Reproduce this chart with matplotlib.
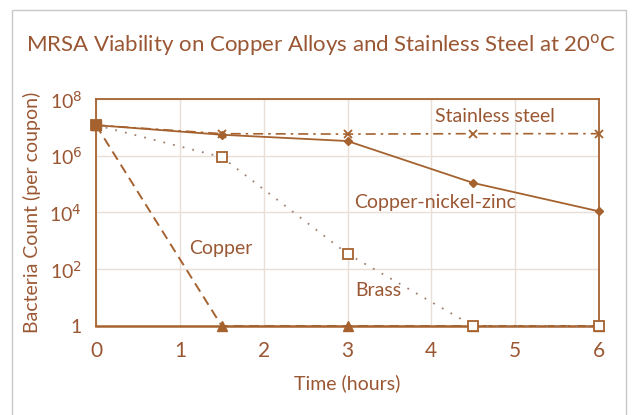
import matplotlib
matplotlib.use("Agg")
import matplotlib.pyplot as plt
from matplotlib.patches import Rectangle

plt.rcParams['font.family'] = ['Lato', 'DejaVu Sans']

time = [0, 1.5, 3, 4.5, 6]
stainless = [1.2e7, 6.0e6, 5.8e6, 6.0e6, 6.0e6]
cunizn = [1.2e7, 5.5e6, 3.3e6, 1.1e5, 1.1e4]
brass = [1.2e7, 9.0e5, 3.5e2, 1, 1]
copper = [1.2e7, 1, 1, 1, 1]

yticks = [1, 1e2, 1e4, 1e6, 1e8]
ytick_labels = ['1', r'10$^{2}$', r'10$^{4}$', r'10$^{6}$', r'10$^{8}$']
xticks = [0, 1, 2, 3, 4, 5, 6]

brown = '#A5622F'
text_c = '#9A5733'
grid_c = '#EADFD6'

fig = plt.figure(figsize=(6.37, 4.15), dpi=100)
fig.patches.append(Rectangle((12/637, -0.1), (626-12)/637, 1.1 - 10/415, transform=fig.transFigure,
                             fill=False, edgecolor='#C8C8C8', linewidth=1.0))
ax = fig.add_axes([96/637, 1-326/415, (599-96)/637, (326-99)/415])
ax.set_yscale('log')
ax.set_xlim(0, 6)
ax.set_ylim(1, 1e8)

ax.plot(time, stainless, color=brown, lw=1.2, linestyle=(0, (6, 3, 1.5, 3)), marker='x', ms=6, mew=1.3, zorder=3, clip_on=False)
ax.plot(time, cunizn, color=brown, lw=1.3, linestyle='-', marker='D', ms=4.5, zorder=4, clip_on=False)
ax.plot(time, copper, color=brown, lw=1.4, linestyle=(0, (5, 3)), marker='^', ms=6.5, zorder=4, clip_on=False)
ax.plot(time, brass, color='#A08070', lw=1.3, linestyle=(0, (1, 4.5)), marker='s', ms=6.5, mfc='white', mec=brown, mew=1.3, zorder=5, clip_on=False)
ax.plot([0], [1.2e7], marker='s', ms=7.5, color=brown, zorder=6, clip_on=False)

ax.set_yticks(yticks)
ax.set_yticklabels(ytick_labels)
ax.minorticks_off()
ax.set_xticks(xticks)
ax.grid(True, color=grid_c, lw=1.0)
ax.tick_params(axis='y', length=0, labelsize=14, colors=text_c, pad=10)
ax.tick_params(axis='x', length=0, labelsize=15, colors=text_c, pad=11)
for s in ax.spines.values():
    s.set_color(brown)
    s.set_linewidth(1.3)
ax.spines['bottom'].set_linewidth(1.8)

ax.set_xlabel('Time (hours)', fontsize=14, color=text_c, labelpad=9)
ax.set_ylabel('Bacteria Count (per coupon)', fontsize=14, color=text_c, labelpad=6)

ax.text(4.76, 2.5e7, 'Stainless steel', fontsize=14, color=text_c, ha='center', va='center')
ax.text(4.05, 2.3e4, 'Copper-nickel-zinc', fontsize=14, color=text_c, ha='center', va='center')
ax.text(1.49, 5.6e2, 'Copper', fontsize=14, color=text_c, ha='center', va='center')
ax.text(3.37, 18, 'Brass', fontsize=14, color=text_c, ha='center', va='center')

fig.text(321/637, 1-45/415, 'MRSA Viability on Copper Alloys and Stainless Steel at 20$^{\\mathrm{o}}$C',
         fontsize=16, color=text_c, ha='center', va='center')

fig.savefig('out.png', dpi=100, facecolor='white')
